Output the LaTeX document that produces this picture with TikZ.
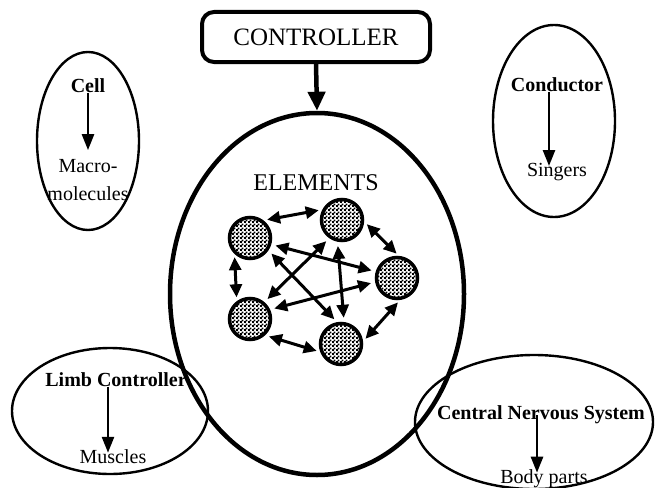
\documentclass[tikz,border=0pt]{standalone}
\usepackage{fontspec}
\setmainfont{Liberation Serif}
\usetikzlibrary{arrows.meta,patterns,shapes.geometric}
\pgfdeclarepatternformonly{sqdots}{\pgfpointorigin}{\pgfpoint{4pt}{4pt}}{\pgfpoint{4pt}{4pt}}{%
  \pgfpathrectangle{\pgfpoint{0pt}{0pt}}{\pgfpoint{2.2pt}{2.2pt}}%
  \pgfpathrectangle{\pgfpoint{2pt}{2pt}}{\pgfpoint{2pt}{2pt}}%
  \pgfusepath{fill}}
\begin{document}
\begin{tikzpicture}[x=1pt,y=-1pt,
  outer/.style={ellipse, draw, line width=2.4pt, inner sep=0pt},
  lab/.style={font=\fontsize{20}{28}\selectfont, inner sep=1pt, align=center},
  blab/.style={font=\fontsize{20}{28}\selectfont\bfseries, inner sep=1pt},
  sarr/.style={-{Triangle[length=16pt,width=12pt]}, line width=2.6pt},
  elt/.style={circle, draw, line width=3.5pt, minimum size=41pt, inner sep=0pt, outer sep=0pt, pattern=sqdots, preaction={fill=white}},
  darr/.style={{Triangle[length=13pt,width=12pt]}-{Triangle[length=13pt,width=12pt]}, line width=3pt, shorten >=6pt, shorten <=6pt}
]
\useasboundingbox (0,0) rectangle (655,487);

% controller
\node[draw, rounded corners=12pt, line width=4pt, minimum width=228pt, minimum height=50pt,
      font=\fontsize{25}{30}\selectfont] (ctrl) at (316,37) {CONTROLLER};
\node[ellipse, draw, line width=4.5pt, minimum width=294pt, minimum height=362pt, inner sep=0pt] (elem) at (317,294) {};
\draw[-{Triangle[length=19pt,width=17pt]}, line width=4.5pt] (ctrl.south) -- (elem.north);
\node[font=\fontsize{24}{28}\selectfont] (elab) at (316,183) {ELEMENTS};

% elements
\node[elt] (c1) at (250,238) {};
\node[elt] (c2) at (342,220) {};
\node[elt] (c3) at (397,278) {};
\node[elt] (c4) at (250,319) {};
\node[elt] (c5) at (341,344) {};

\draw[darr] (c1.57) -- (c2.148);
\draw[darr] (c2.0) -- (c3.79);
\draw[darr] (c3.-76) -- (c5.2);
\draw[darr] (c5.205) -- (c4.-50);
\draw[darr] (c4.130) -- (c1.220);
\draw[darr] (c1.-17) -- (c3.163);
\draw[darr] (c1.-33) -- (c5.97);
\draw[darr] (c2.236) -- (c4.50);
\draw[darr] (c2.257) -- (c5.81);
\draw[darr] (c3.190) -- (c4.26);

% cell
\node[outer, minimum width=102pt, minimum height=178pt] (cellE) at (88,141) {};
\node[blab] (cell) at (88,86) {Cell};
\node[lab] (macro) at (88,180) {Macro-\\molecules};
\draw[sarr] (cell.base) -- ([yshift=8pt]macro.north);

% conductor
\node[outer, minimum width=122pt, minimum height=192pt] (condE) at (554,121) {};
\node[blab] (cond) at (557,85) {Conductor};
\node[lab] (sing) at (557,172) {Singers};
\draw[sarr] ([xshift=-8pt]cond.base) -- ([xshift=-8pt,yshift=-4pt]sing.north);

% limb
\node[outer, minimum width=196pt, minimum height=126pt] (limbE) at (110,411) {};
\node[blab] (limb) at (116,380) {Limb Controller};
\node[lab] (musc) at (113,457) {Muscles};
\draw[sarr] ([xshift=-8pt]limb.base) -- ([xshift=-5pt,yshift=-4pt]musc.north);

% cns
\node[outer, minimum width=238pt, minimum height=134pt] (cnsE) at (534,422) {};
\node[blab] (cns) at (541,415) {Central Nervous System};
\node[lab] (body) at (544,479) {Body parts};
\draw[sarr] ([xshift=-4pt]cns.center) -- ([xshift=-7pt,yshift=-4pt]body.north);
\end{tikzpicture}
\end{document}
